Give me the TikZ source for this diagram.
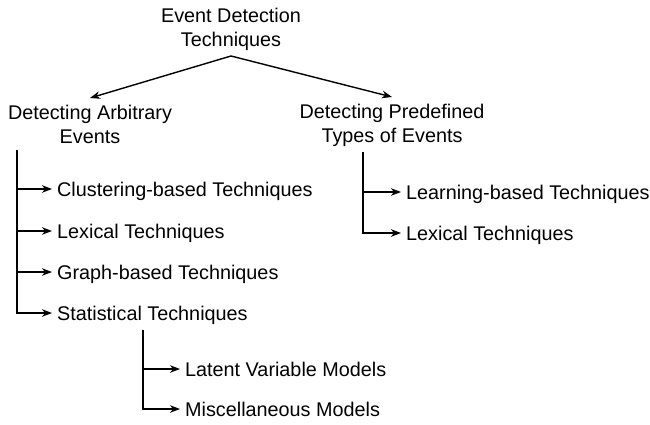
\documentclass[tikz,border=0pt]{standalone}
\usepackage{fontspec}
\setmainfont{Liberation Sans}
\usetikzlibrary{arrows.meta}
\begin{document}
\begin{tikzpicture}[x=1pt,y=-1pt,
  every node/.style={font=\fontsize{19.8}{24}\selectfont, inner sep=0pt},
  toplabel/.style={align=center},
  leaf/.style={anchor=west, inner xsep=5pt, text height=19pt, text depth=5pt},
  link/.style={line width=1.4pt, -{Stealth[length=10pt,width=7.5pt,inset=3pt]}},
  trunk/.style={line width=1.4pt}]
\useasboundingbox (0,0) rectangle (650,425);

% top of the hierarchy
\node[toplabel, anchor=south, inner ysep=5pt] (root) at (231,56) {Event Detection\\Techniques};
\node[toplabel, anchor=north, inner ysep=7pt] (arb) at (90,98) {Detecting Arbitrary\\Events};
\node[toplabel, anchor=north, inner ysep=7pt] (pre) at (392,97) {Detecting Predefined\\Types of Events};
\draw[link] (root.south) -- (arb.north);
\draw[link] (root.south) -- (pre.north);

% arbitrary events branch
\coordinate (tA) at (17,150);
\node[leaf] (clus) at (52,189) {Clustering-based Techniques};
\node[leaf] (lexA) at (52,231) {Lexical Techniques};
\node[leaf] (graph) at (52,272) {Graph-based Techniques};
\node[leaf] (stat) at (52,313) {Statistical Techniques};
\draw[link] (tA |- clus.west) -- (clus.west);
\draw[link] (tA |- lexA.west) -- (lexA.west);
\draw[link] (tA |- graph.west) -- (graph.west);
\draw[link] (tA) |- (stat.west);

% statistical techniques branch
\coordinate (tS) at (143,330);
\node[leaf] (lat) at (180,369) {Latent Variable Models};
\node[leaf] (misc) at (180,409) {Miscellaneous Models};
\draw[link] (tS |- lat.west) -- (lat.west);
\draw[link] (tS) |- (misc.west);

% predefined types branch
\coordinate (tP) at (363,152);
\node[leaf] (learn) at (401,192) {Learning-based Techniques};
\node[leaf] (lexP) at (401,233) {Lexical Techniques};
\draw[link] (tP |- learn.west) -- (learn.west);
\draw[link] (tP) |- (lexP.west);
\end{tikzpicture}
\end{document}
